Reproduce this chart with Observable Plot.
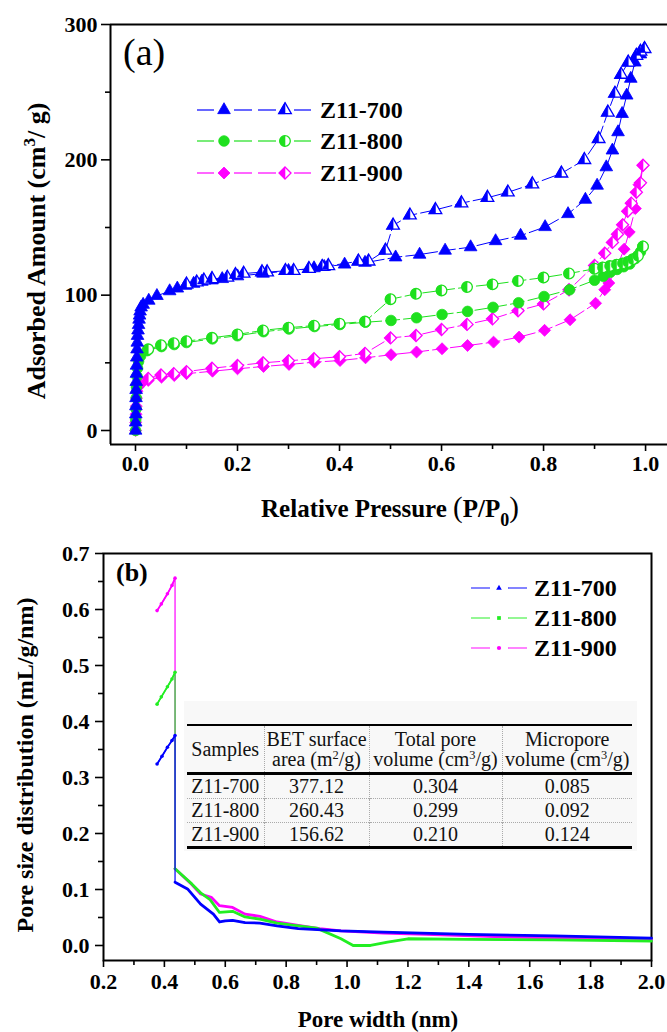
<!DOCTYPE html>
<html><head><meta charset="utf-8">
<script src="https://cdn.jsdelivr.net/npm/d3@7"></script>
<script src="https://cdn.jsdelivr.net/npm/@observablehq/plot@0.6"></script>
<style>
body{margin:0;background:#fff}
#wrap{position:relative;width:667px;height:1032px;overflow:hidden;background:#fff}
#a,#b{position:absolute;left:0}
#a{top:0}#b{top:530px}
#tblbg{position:absolute;left:184px;top:701px;width:453px;height:150px;background:#f8f8f8}
table.inset{position:absolute;left:187px;top:724px;border-collapse:collapse;table-layout:fixed;width:445px;
 font-family:"Liberation Serif",serif;font-size:20px;color:#111}
table.inset th,table.inset td{padding:0;text-align:center;font-weight:normal;white-space:nowrap}
table.inset thead tr{border-top:2px solid #000;border-bottom:3px solid #000}
table.inset th{height:46px;line-height:20px}
table.inset td{height:23px;line-height:23px}
table.inset tbody tr{border-bottom:1px dotted #aaa}
table.inset tbody tr:last-child{border-bottom:3px solid #000}
table.inset th+th,table.inset td+td{border-left:1px dotted #aaa}
table.inset sup{font-size:0.62em;line-height:0;vertical-align:0.55em}
</style></head>
<body><div id="wrap"><div id="a"></div><div id="b"></div><div id="tblbg"></div></div>
<script>
// ---------- Panel (a) data: N2 isotherms [P/P0, amount] ----------
const z700Ads = [[0.0002,0],[0.0004,6],[0.0006,12],[0.0008,18],[0.001,24],[0.0012,30],[0.0015,36],[0.0018,42],[0.002,48],[0.0025,54],[0.003,60],[0.0035,65],[0.004,70],[0.005,74],[0.006,78],[0.007,82],[0.008,85],[0.009,88],[0.011,91],[0.015,93],[0.026,96],[0.042,99.5],[0.067,103],[0.082,105],[0.098,107],[0.114,108.5],[0.13,110],[0.15,111],[0.17,112],[0.2,114],[0.25,116],[0.3,118],[0.35,120],[0.37,121],[0.41,122.7],[0.45,124],[0.51,128],[0.557,130],[0.607,133],[0.657,135.5],[0.706,140],[0.755,144],[0.803,150.4],[0.848,160],[0.882,170.6],[0.905,181],[0.923,194.6],[0.935,207],[0.946,220.5],[0.954,234],[0.963,247.6],[0.971,260],[0.979,272],[0.99,278],[0.998,282]];
const z700Des = [[0.998,282],[0.99,280],[0.982,277],[0.966,272],[0.952,263],[0.94,249],[0.926,235],[0.908,215.5],[0.88,200],[0.835,190],[0.778,182],[0.73,176],[0.69,172],[0.639,168],[0.588,163],[0.538,159],[0.505,151.5],[0.49,133],[0.457,125],[0.437,125],[0.378,121.6],[0.366,121],[0.34,119.5],[0.31,118],[0.294,118],[0.258,117],[0.248,117],[0.212,116],[0.196,115],[0.18,113],[0.15,112],[0.134,111],[0.12,109.5],[0.1,108]];
const z800Ads = [[0.0002,0],[0.0005,8],[0.001,16],[0.0015,24],[0.002,32],[0.003,40],[0.004,46],[0.006,51],[0.01,55],[0.023,59],[0.051,62],[0.076,63.5],[0.1,65],[0.151,67.7],[0.2,70],[0.251,73],[0.301,75],[0.351,76.8],[0.401,78.3],[0.451,80],[0.501,81.3],[0.551,83.3],[0.601,85.7],[0.651,88],[0.701,91],[0.751,94.4],[0.801,99],[0.851,104],[0.9,111],[0.917,114],[0.931,117],[0.944,119],[0.957,121],[0.969,123],[0.98,127],[0.99,132],[0.995,136]];
const z800Des = [[0.995,136],[0.985,129],[0.975,126.5],[0.965,124.5],[0.955,123.5],[0.943,122.5],[0.93,121.5],[0.916,120.5],[0.9,119.5],[0.85,116],[0.8,113],[0.75,110.5],[0.7,108],[0.65,106],[0.6,103.5],[0.55,101],[0.5,97],[0.45,80.5],[0.4,79],[0.35,77.5],[0.3,76],[0.25,74],[0.2,71],[0.15,68.5],[0.1,66],[0.075,64.5],[0.05,63],[0.025,60]];
const z900Ads = [[0.0002,0],[0.0005,6],[0.001,12],[0.0015,18],[0.002,24],[0.003,29],[0.005,32],[0.01,34],[0.025,37],[0.051,39.4],[0.076,40.6],[0.1,42],[0.151,43.8],[0.2,45.6],[0.251,47.3],[0.301,48.8],[0.351,50.5],[0.401,51.7],[0.451,53.7],[0.501,56],[0.551,58],[0.601,60.4],[0.651,62.8],[0.702,65.3],[0.752,69],[0.802,74],[0.852,81.8],[0.902,94],[0.92,104],[0.928,109],[0.943,120],[0.958,134],[0.968,146.6],[0.98,164],[0.987,181.6],[0.995,196]];
const z900Des = [[0.995,196],[0.99,183],[0.982,176],[0.972,168],[0.965,162],[0.955,152],[0.945,145],[0.935,139],[0.92,131],[0.9,122],[0.85,104],[0.8,93.5],[0.75,88.5],[0.7,82.5],[0.65,78.4],[0.6,74.6],[0.55,70.2],[0.5,68.4],[0.45,57],[0.4,54.5],[0.35,53],[0.3,51.5],[0.25,50],[0.2,48],[0.15,46],[0.1,43.5],[0.075,42],[0.05,41],[0.025,38.5]];

// ---------- Panel (b) data: pore size distribution [width nm, mL/g/nm] ----------
const b700Rise = [[0.376,0.324],[0.392,0.338],[0.41,0.354],[0.425,0.366],[0.435,0.375]];
const b700Tail = [[0.435,0.113],[0.476,0.101],[0.519,0.074],[0.561,0.056],[0.581,0.042],[0.6,0.044],[0.624,0.045],[0.665,0.041],[0.714,0.040],[0.77,0.035],[0.84,0.030],[0.98,0.026],[1.12,0.024],[1.4,0.020],[1.68,0.017],[2.0,0.013]];
const b800Rise = [[0.376,0.431],[0.39,0.444],[0.41,0.462],[0.425,0.476],[0.435,0.488]];
const b800Tail = [[0.435,0.137],[0.49,0.11],[0.519,0.094],[0.55,0.082],[0.581,0.059],[0.624,0.061],[0.665,0.051],[0.714,0.047],[0.77,0.040],[0.84,0.035],[0.9,0.031],[0.98,0.012],[1.02,0.0],[1.077,0.0],[1.133,0.006],[1.2,0.012],[1.4,0.011],[1.68,0.010],[2.0,0.008]];
const b900Rise = [[0.376,0.598],[0.39,0.61],[0.41,0.628],[0.425,0.643],[0.435,0.656]];
const b900Tail = [[0.435,0.137],[0.49,0.109],[0.519,0.092],[0.554,0.086],[0.581,0.071],[0.624,0.068],[0.665,0.056],[0.714,0.052],[0.77,0.042],[0.84,0.036],[0.91,0.030],[0.98,0.026],[1.12,0.022],[1.26,0.020],[1.54,0.015],[2.0,0.010]];

// ---------- labels / ticks ----------
const sampleNames = ["Z11-700","Z11-800","Z11-900"];
const colorsA = ["#0000ff","#1ee01e","#ff00ff"];
const colorsB = ["#0000ff","#22ee22","#ff00ff"];
const aTicksY = [0,100,200,300], aMinorY = [50,150,250];
const aTicksX = [0,0.2,0.4,0.6,0.8,1.0], aMinorX = [0.1,0.3,0.5,0.7,0.9];
const bTicksY = [0,0.1,0.2,0.3,0.4,0.5,0.6,0.7], bMinorY = [0.05,0.15,0.25,0.35,0.45,0.55,0.65];
const bTicksX = [0.2,0.4,0.6,0.8,1.0,1.2,1.4,1.6,1.8,2.0], bMinorX = [0.3,0.5,0.7,0.9,1.1,1.3,1.5,1.7,1.9];
const tableHead = ["Samples","BET surface<br>area (m<sup>2</sup>/g)","Total pore<br>volume (cm<sup>3</sup>/g)","Micropore<br>volume (cm<sup>3</sup>/g)"];
const betArea = ["377.12","260.43","156.62"];
const totalPore = ["0.304","0.299","0.210"];
const microPore = ["0.085","0.092","0.124"];

// ---------- symbols ----------
const S3 = Math.sqrt(3);
const triHalf = {draw(c, s){const y=-Math.sqrt(s/(S3*3)); c.moveTo(0,y*2); c.lineTo(S3*y,-y); c.lineTo(0,-y); c.closePath();}};
const circHalf = {draw(c, s){const r=Math.sqrt(s/Math.PI); c.moveTo(0,-r); c.arc(0,0,r,-Math.PI/2,Math.PI/2,true); c.closePath();}};
const diaHalf = {draw(c, s){const r=Math.sqrt(s)*0.62625; c.moveTo(0,-r); c.lineTo(0,r); c.lineTo(-r,0); c.closePath();}};
const symFull = [d3.symbolTriangle, d3.symbolCircle, d3.symbolDiamond2];
const symHalf = [triHalf, circHalf, diaHalf];
const symR = [4.7, 5.3, 5.4];

const seriesA = [
  {ads:z700Ads, des:z700Des},
  {ads:z800Ads, des:z800Des},
  {ads:z900Ads, des:z900Des}
];
const font = "'Liberation Serif', 'Times New Roman', serif";
const X = d => d[0], Y = d => d[1];

// ---------- Panel (a) ----------
const aXd = [-0.049, 1.043], aYd = [-10.35, 300];
const marksA = [
  Plot.ruleX([aXd[0]], {strokeWidth:2}),
  Plot.ruleY([aYd[0]], {strokeWidth:2}),
  Plot.ruleY([aYd[1]], {strokeWidth:2}),
  Plot.axisY(aTicksY, {tickSize:9, tickPadding:4, strokeWidth:1.6, label:null, tickFormat:d=>String(d), fontSize:22, fontWeight:"bold"}),
  Plot.axisY(aMinorY, {tickSize:5, strokeWidth:1.6, label:null, tickFormat:()=>""}),
  Plot.axisX(aTicksX, {tickSize:7, tickPadding:4, strokeWidth:1.6, label:null, tickFormat:d=>d.toFixed(1), fontSize:22, fontWeight:"bold"}),
  Plot.axisX(aMinorX, {tickSize:5, strokeWidth:1.6, label:null, tickFormat:()=>""})
];
[2,1,0].forEach(i => {
  marksA.push(Plot.line(seriesA[i].ads, {x:X, y:Y, stroke:colorsA[i], strokeWidth:1, strokeDasharray:"14,4"}));
  marksA.push(Plot.line(seriesA[i].des, {x:X, y:Y, stroke:colorsA[i], strokeWidth:1, strokeDasharray:"14,4"}));
});
[2,1,0].forEach(i => {
  marksA.push(Plot.dot(seriesA[i].ads, {x:X, y:Y, symbol:symFull[i], r:symR[i], fill:colorsA[i], stroke:colorsA[i], strokeWidth:0.8}));
  marksA.push(Plot.dot(seriesA[i].des, {x:X, y:Y, symbol:symFull[i], r:symR[i], fill:"white", stroke:colorsA[i], strokeWidth:1.3}));
  marksA.push(Plot.dot(seriesA[i].des, {x:X, y:Y, symbol:symHalf[i], r:symR[i], fill:colorsA[i], stroke:colorsA[i], strokeWidth:0.6}));
});
const svgA = Plot.plot({
  width:667, height:530, marginTop:24, marginBottom:86, marginLeft:110, marginRight:0,
  x:{domain:aXd}, y:{domain:aYd},
  style:{fontFamily:font, background:"transparent", overflow:"visible", color:"#000"},
  marks: marksA
});
document.getElementById("a").appendChild(svgA);
const ga = d3.select(svgA);
ga.append("text").attr("x",123).attr("y",65).attr("text-anchor","start").style("font-family",font).style("font-size","38px").style("font-weight","normal").text("(a)");
// y title
{
  const t = ga.append("text").attr("transform","translate(45,251) rotate(-90)").attr("text-anchor","middle")
    .style("font-family",font).style("font-size","26px").style("font-weight","bold");
  t.append("tspan").text("Adsorbed Amount (cm");
  t.append("tspan").attr("dy",-10).style("font-size","17px").text("3");
  t.append("tspan").attr("dy",10).text("/ g)");
}
// x title
{
  const t = ga.append("text").attr("x",390).attr("y",517).attr("text-anchor","middle")
    .style("font-family",font).style("font-size","25px").style("font-weight","bold");
  t.append("tspan").text("Relative Pressure ");
  t.append("tspan").style("font-weight","normal").style("font-size","29px").text("(");
  t.append("tspan").text("P/P");
  t.append("tspan").attr("dy",9).style("font-size","18px").text("0");
  t.append("tspan").attr("dy",-9).style("font-weight","normal").style("font-size","29px").text(")");
}
// legend (a)
const legRowsA = [110,141,173];
sampleNames.forEach((name,i) => {
  const y = legRowsA[i];
  const g = ga.append("g");
  [[197,214],[234,252],[258,276],[294,311]].forEach(([x1,x2]) =>
    g.append("line").attr("x1",x1).attr("x2",x2).attr("y1",y).attr("y2",y).attr("stroke",colorsA[i]).attr("stroke-width",1.2));
  const size = Math.PI*symR[i]*symR[i];
  g.append("path").attr("d",d3.symbol(symFull[i],size)()).attr("transform",`translate(224,${y})`).attr("fill",colorsA[i]).attr("stroke",colorsA[i]).attr("stroke-width",0.8);
  g.append("path").attr("d",d3.symbol(symFull[i],size)()).attr("transform",`translate(285,${y})`).attr("fill","white").attr("stroke",colorsA[i]).attr("stroke-width",1.3);
  g.append("path").attr("d",d3.symbol(symHalf[i],size)()).attr("transform",`translate(285,${y})`).attr("fill",colorsA[i]).attr("stroke",colorsA[i]).attr("stroke-width",0.6);
  g.append("text").attr("x",320).attr("y",y+8).attr("text-anchor","start").style("font-family",font).style("font-size","24px").style("font-weight","bold").text(name);
});

// ---------- Panel (b) ----------
const bXd = [0.2, 2.0], bYd = [-0.0268, 0.7];
const seriesB = [
  {rise:b700Rise, tail:b700Tail},
  {rise:b800Rise, tail:b800Tail},
  {rise:b900Rise, tail:b900Tail}
];
const marksB = [
  Plot.frame({strokeWidth:2}),
  Plot.axisY(bTicksY, {tickSize:8, tickPadding:6, strokeWidth:1.6, label:null, tickFormat:d=>d.toFixed(1), fontSize:22, fontWeight:"bold"}),
  Plot.axisY(bMinorY, {tickSize:5, strokeWidth:1.6, label:null, tickFormat:()=>""}),
  Plot.axisX(bTicksX, {tickSize:7, tickPadding:6, strokeWidth:1.6, label:null, tickFormat:d=>d.toFixed(1), fontSize:22, fontWeight:"bold"}),
  Plot.axisX(bMinorX, {tickSize:5, strokeWidth:1.6, label:null, tickFormat:()=>""})
];
[2,1,0].forEach(i => {
  const s = seriesB[i];
  marksB.push(Plot.line(s.rise.concat(s.tail), {x:X, y:Y, stroke:colorsB[i], strokeWidth:1.2}));
  marksB.push(Plot.line(s.rise, {x:X, y:Y, stroke:colorsB[i], strokeWidth:1.8}));
  marksB.push(Plot.dot(s.rise, {x:X, y:Y, r:1.8, fill:colorsB[i]}));
  marksB.push(Plot.line(s.tail, {x:X, y:Y, stroke:colorsB[i], strokeWidth:2.8}));
});
const svgB = Plot.plot({
  width:667, height:502, marginTop:23, marginBottom:72, marginLeft:103, marginRight:16,
  x:{domain:bXd}, y:{domain:bYd},
  style:{fontFamily:font, background:"transparent", overflow:"visible", color:"#000"},
  marks: marksB
});
document.getElementById("b").appendChild(svgB);
const gb = d3.select(svgB);
gb.append("text").attr("x",116).attr("y",51).attr("text-anchor","start").style("font-family",font).style("font-size","26px").style("font-weight","bold").text("(b)");
gb.append("text").attr("transform","translate(33,235) rotate(-90)").attr("text-anchor","middle")
  .style("font-family",font).style("font-size","24px").style("font-weight","bold").text("Pore size distribution (mL/g/nm)");
gb.append("text").attr("x",378).attr("y",497).attr("text-anchor","middle")
  .style("font-family",font).style("font-size","23px").style("font-weight","bold").text("Pore width (nm)");
const legRowsB = [58,88,118];
const legSymB = [d3.symbolTriangle, d3.symbolSquare, d3.symbolCircle];
sampleNames.forEach((name,i) => {
  const y = legRowsB[i];
  [[471,490],[508,527]].forEach(([x1,x2]) =>
    gb.append("line").attr("x1",x1).attr("x2",x2).attr("y1",y).attr("y2",y).attr("stroke",colorsB[i]).attr("stroke-width",1.3).attr("stroke-opacity",0.75));
  gb.append("path").attr("d",d3.symbol(legSymB[i],14)()).attr("transform",`translate(499,${y})`).attr("fill",colorsB[i]);
  gb.append("text").attr("x",534).attr("y",y+8).attr("text-anchor","start").style("font-family",font).style("font-size","24px").style("font-weight","bold").text(name);
});

// ---------- inset table ----------
const rowsT = sampleNames.map((n,i) => [n, betArea[i], totalPore[i], microPore[i]]);
const tbl = d3.select("#wrap").append("table").attr("class","inset");
const cg = tbl.append("colgroup");
[77,105,133,130].forEach(w => cg.append("col").style("width",w+"px"));
tbl.append("thead").append("tr").selectAll("th").data(tableHead).join("th").html(d => d);
tbl.append("tbody").selectAll("tr").data(rowsT).join("tr").selectAll("td").data(d => d).join("td").text(d => d);
</script>
</body></html>
